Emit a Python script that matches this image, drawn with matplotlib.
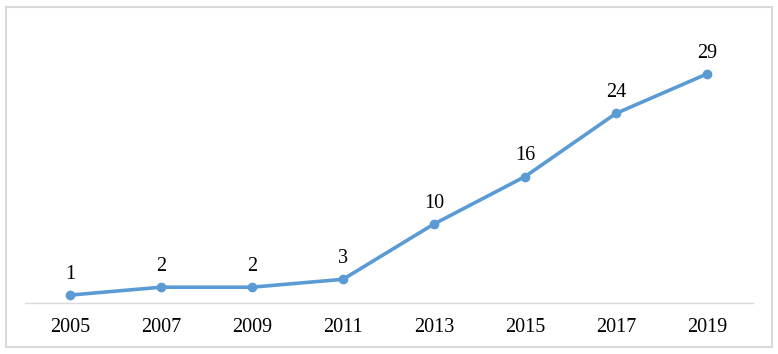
import matplotlib
matplotlib.use("Agg")
import matplotlib.pyplot as plt
from matplotlib.patches import Rectangle

years = ["2005", "2007", "2009", "2011", "2013", "2015", "2017", "2019"]
values = [1, 2, 2, 3, 10, 16, 24, 29]

plt.rcParams['font.family'] = ['Liberation Serif', 'DejaVu Serif']

fig = plt.figure(figsize=(7.78, 3.54), dpi=100)
W, H = 778, 354
# outer border
fig.patches.append(Rectangle((5.5 / W, 7 / H), 766.5 / W, 340 / H, transform=fig.transFigure,
                             fill=False, edgecolor="#d9d9d9", linewidth=1.5))

left, right = 24.5 / W, 752.5 / W
bottom = (H - 303) / H
top = (H - 26.5) / H
ax = fig.add_axes([left, bottom, right - left, top - bottom])
x = list(range(len(years)))
ax.plot(x, values, color="#5B9BD5", linewidth=2.6, marker="o", markersize=6, zorder=3)
for xi, v in zip(x, values):
    ax.annotate(str(v), (xi, v), textcoords="offset points", xytext=(0, 8),
                ha="center", va="bottom", fontsize=14.5, color="black")
ax.set_xlim(-0.5, 7.5)
ax.set_ylim(0, 35)
ax.set_xticks(x)
ax.set_xticklabels(years, fontsize=14.5, color="black")
ax.tick_params(axis="x", length=0, pad=10.5)
ax.set_yticks([])
for s in ["top", "right", "left"]:
    ax.spines[s].set_visible(False)
ax.spines["bottom"].set_color("#d9d9d9")
ax.spines["bottom"].set_linewidth(1.0)
ax.patch.set_visible(False)

fig.savefig("out.png", dpi=100)
